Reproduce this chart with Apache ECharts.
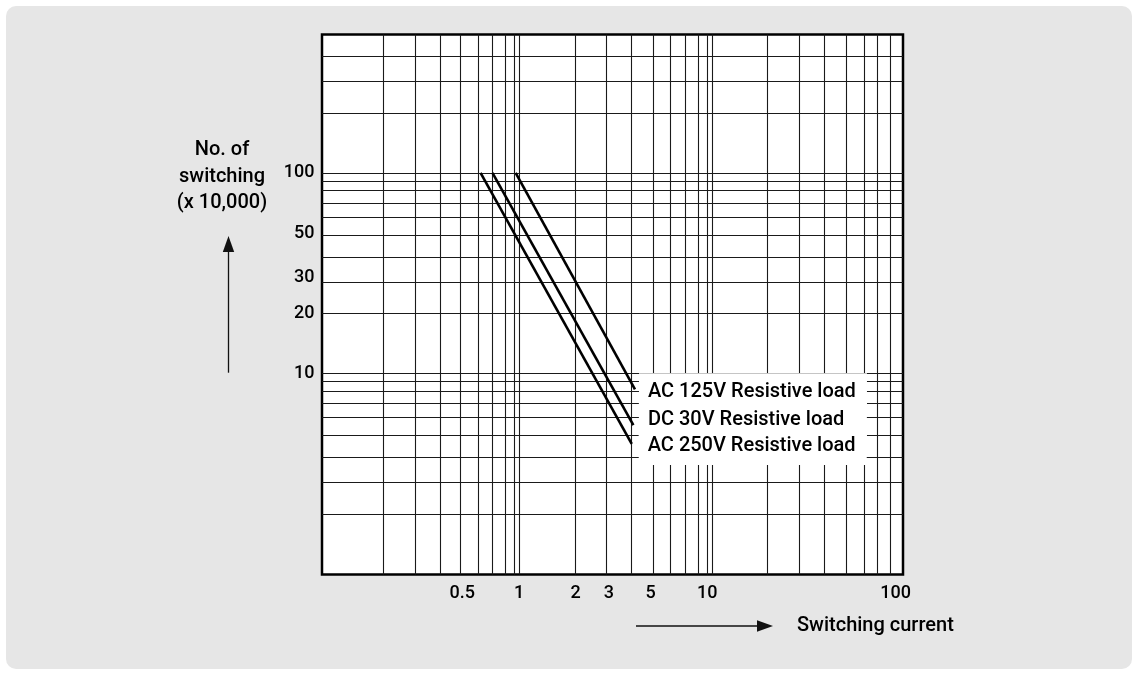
<!DOCTYPE html>
<html>
<head>
<meta charset="utf-8">
<script src="https://cdn.jsdelivr.net/npm/echarts@6/dist/echarts.min.js"></script>
<style>
html,body{margin:0;padding:0;background:#fff;}
#chart{width:1138px;height:675px;}
</style>
</head>
<body>
<div id="chart"></div>
<script>
// ---- data ----
const xGridLines = [0.188, 0.276, 0.376, 0.494, 0.611, 0.725, 0.846, 0.944, 1, 1.98, 2.90, 3.97, 5.17, 6.39, 7.68, 8.90, 10, 10.6, 20.8, 30.7, 41.7, 55, 67.8, 80.3, 94];
const yGridLines = [2, 2.87, 3.83, 4.95, 6.04, 7.12, 8.2, 9.12, 10, 19.9, 28.6, 38.1, 49.2, 60.1, 71, 81.5, 91.1, 100, 198, 286, 382];
const xTickLabels = [0.5, 1, 2, 3, 5, 10, 100];
const yTickLabels = [10, 20, 30, 50, 100];
const xMin = 0.0899, xMax = 109.5;
const yMin = 1, yMax = 489;

const seriesNames = ['AC 125V Resistive load', 'DC 30V Resistive load', 'AC 250V Resistive load'];
const ac125X = [0.96, 4.13];
const ac125Y = [100, 8.36];
const dc30X = [0.723, 4.05];
const dc30Y = [100, 5.55];
const ac250X = [0.625, 3.97];
const ac250Y = [100, 4.47];

const FONT = 'Roboto, "Liberation Sans", Arial, sans-serif';

const chart = echarts.init(document.getElementById('chart'), null, {renderer: 'canvas'});

function pairs(xs, ys) { return xs.map((x, i) => [x, ys[i]]); }

const gridLineData = xGridLines.map(v => ({xAxis: v})).concat(yGridLines.map(v => ({yAxis: v})));

function lineSeries(name, xs, ys, dist, offY) {
  return {
    name: name,
    type: 'line',
    z: 5,
    data: pairs(xs, ys),
    symbol: 'none',
    silent: true,
    lineStyle: {color: '#000', width: 2.6},
    endLabel: {
      show: true,
      formatter: '{a}',
      position: 'right',
      distance: dist,
      offset: [0, offY],
      fontFamily: FONT,
      fontSize: 20,
      fontWeight: 500,
      color: '#000',
      backgroundColor: '#fff',
      padding: [6, 5, 6, 9],
      width: 214,
      lineHeight: 26,
      align: 'left'
    }
  };
}

const labelCommon = {fontFamily: FONT, fontSize: 18, fontWeight: 500, color: '#000'};

const option = {
  animation: false,
  backgroundColor: 'transparent',
  graphic: [
    {type: 'rect', z: -10, shape: {x: 6, y: 6, width: 1126, height: 663, r: 10}, style: {fill: '#e6e6e6'}},
    {type: 'text', z: 10, x: 222, y: 176.5, style: {text: 'No. of\nswitching\n(x 10,000)', textAlign: 'center', textVerticalAlign: 'middle', lineHeight: 26.5, font: '500 20px ' + FONT, fill: '#000'}},
    {type: 'line', z: 10, shape: {x1: 228.5, y1: 372.7, x2: 228.5, y2: 250}, style: {stroke: '#111', lineWidth: 1.3}},
    {type: 'polygon', z: 10, shape: {points: [[222.8, 252], [234.2, 252], [228.5, 236]]}, style: {fill: '#111'}},
    {type: 'line', z: 10, shape: {x1: 636, y1: 626, x2: 760, y2: 626}, style: {stroke: '#111', lineWidth: 1.3}},
    {type: 'polygon', z: 10, shape: {points: [[757, 620.3], [757, 631.7], [773, 626]]}, style: {fill: '#111'}},
    {type: 'text', z: 10, x: 797, y: 626, style: {text: 'Switching current', textAlign: 'left', textVerticalAlign: 'middle', font: '500 20px ' + FONT, fill: '#000'}}
  ],
  grid: {
    left: 322, top: 34.5, width: 581, height: 540,
    show: true, backgroundColor: '#fff', borderColor: '#000', borderWidth: 2.5
  },
  xAxis: {
    type: 'log', logBase: 10, min: xMin, max: xMax,
    axisLine: {show: false}, axisTick: {show: false}, axisLabel: {show: false}, splitLine: {show: false}
  },
  yAxis: {
    type: 'log', logBase: 10, min: yMin, max: yMax,
    axisLine: {show: false}, axisTick: {show: false}, axisLabel: {show: false}, splitLine: {show: false}
  },
  series: [
    {
      name: 'grid',
      type: 'line',
      z: 1,
      data: [],
      silent: true,
      markLine: {
        silent: true,
        symbol: ['none', 'none'],
        label: {show: false},
        animation: false,
        lineStyle: {type: 'solid', color: '#1a1a1a', width: 1.1},
        emphasis: {disabled: true},
        data: gridLineData
      }
    },
    {
      name: 'xLabels',
      type: 'scatter',
      z: 6,
      clip: false,
      silent: true,
      symbolSize: 1,
      itemStyle: {color: 'rgba(0,0,0,0)', opacity: 1},
      data: xTickLabels.map(v => [v, yMin]),
      label: Object.assign({
        show: true, position: 'bottom', distance: 9,
        formatter: p => String(p.value[0])
      }, labelCommon)
    },
    {
      name: 'yLabels',
      type: 'scatter',
      z: 6,
      clip: false,
      silent: true,
      symbolSize: 1,
      itemStyle: {color: 'rgba(0,0,0,0)', opacity: 1},
      data: yTickLabels.map(v => [xMin, v]),
      label: Object.assign({
        show: true, position: 'left', distance: 7,
        formatter: p => String(p.value[1])
      }, labelCommon)
    },
    lineSeries(seriesNames[0], ac125X, ac125Y, 4, 3),
    lineSeries(seriesNames[1], dc30X, dc30Y, 5.5, -5),
    lineSeries(seriesNames[2], ac250X, ac250Y, 7, 2)
  ]
};

chart.setOption(option);
</script>
</body>
</html>
